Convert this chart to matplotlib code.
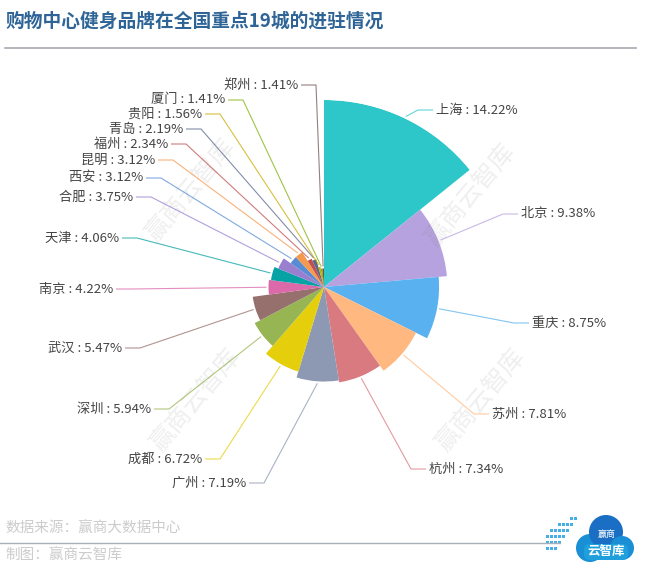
import numpy as np
import matplotlib
matplotlib.use("Agg")
import matplotlib.pyplot as plt
from matplotlib.patches import Circle, FancyBboxPatch

plt.rcParams['font.family'] = ['Noto Sans CJK SC', 'DejaVu Sans']

# data
cities = ["上海", "北京", "重庆", "苏州", "杭州", "广州", "成都", "深圳", "武汉", "南京",
          "天津", "合肥", "西安", "昆明", "福州", "青岛", "贵阳", "厦门", "郑州"]
shares = [14.22, 9.38, 8.75, 7.81, 7.34, 7.19, 6.72, 5.94, 5.47, 4.22,
          4.06, 3.75, 3.12, 3.12, 2.34, 2.19, 1.56, 1.41, 1.41]
colors = ["#2ec7c9", "#b6a2de", "#5ab1ef", "#ffb980", "#d87a80", "#8d98b3", "#e5cf0d",
          "#97b552", "#95706d", "#dc69aa", "#07a2a4", "#9a7fd1", "#588dd5", "#f5994e",
          "#c05050", "#59678c", "#c9ab00", "#7eb00a", "#6f5553"]

# label placement in image pixels: (side, x of text edge, y)
label_pos = [("r", 436, 110), ("r", 521, 214), ("r", 532, 323), ("r", 492, 414),
             ("r", 429, 469), ("l", 246, 483), ("l", 202, 459), ("l", 151, 409),
             ("l", 122, 348), ("l", 113, 289), ("l", 119, 238), ("l", 133, 197),
             ("l", 143, 178), ("l", 155, 160), ("l", 168, 144), ("l", 183, 129),
             ("l", 202, 114), ("l", 225, 100), ("l", 298, 85)]

W, H = 669, 578
CX, CY, R = 324, 287, 187

fig = plt.figure(figsize=(W / 100, H / 100), dpi=100)
fig.patch.set_facecolor("white")

# rose chart: angle and radius both follow the share
vals = np.array(shares)
widths = vals / vals.sum() * 2 * np.pi
starts = np.concatenate([[0], np.cumsum(widths)[:-1]])
mids = starts + widths / 2

pax = fig.add_axes([(CX - R) / W, (H - CY - R) / H, 2 * R / W, 2 * R / H], projection="polar")
pax.set_theta_zero_location("N")
pax.set_theta_direction(-1)
pax.bar(mids, vals, width=widths, bottom=0, color=colors, align="center", linewidth=0)
pax.set_ylim(0, vals.max())
pax.set_axis_off()

# overlay in pixel coordinates
ax = fig.add_axes([0, 0, 1, 1], zorder=5)
ax.set_xlim(0, W)
ax.set_ylim(H, 0)
ax.axis("off")
ax.patch.set_visible(False)

# watermarks
for wx, wy in [(190, 190), (470, 195), (195, 400), (480, 400)]:
    ax.text(wx, wy, "赢商云智库", rotation=50, fontsize=18, color="#777777", alpha=0.12,
            ha="center", va="center", zorder=0)

for i, (city, v) in enumerate(zip(cities, shares)):
    side, tx, ty = label_pos[i]
    rp = R * v / vals.max() + 2
    sx = CX + rp * np.sin(mids[i])
    sy = CY - rp * np.cos(mids[i])
    if side == "r":
        kx, ex = tx - 18, tx - 3
        ha = "left"
    else:
        kx, ex = tx + 18, tx + 3
        ha = "right"
    ax.plot([sx, kx, ex], [sy, ty, ty], color=colors[i], lw=0.8, alpha=0.75,
            solid_capstyle="butt")
    ax.text(tx, ty, f"{city} : {v:.2f}%", ha=ha, va="center", fontsize=9.5, color="#444444")

# title
ax.text(5, 21, "购物中心健身品牌在全国重点19城的进驻情况", fontsize=13.5, fontweight="bold",
        color="#2e6496", ha="left", va="center")
ax.plot([5, 636], [48, 48], color="#a4a8ae", lw=1.2)

# footer
ax.text(5, 529, "数据来源：赢商大数据中心", fontsize=10.5, color="#cccccc", ha="left", va="center")
ax.plot([0, 560], [543, 543], color="#a6b0b8", lw=1.0)
ax.text(5, 556, "制图：赢商云智库", fontsize=10.5, color="#cccccc", ha="left", va="center")

# logo: a small blue cloud
for (lx, ly, lr, lc) in [(590, 548, 14, "#1b8fd6"), (606, 532, 17, "#1a6fc4"),
                         (622, 548, 12, "#1b8fd6")]:
    ax.add_patch(Circle((lx, ly), lr, facecolor=lc, edgecolor="none"))
ax.add_patch(FancyBboxPatch((584, 544), 44, 16, boxstyle="round,pad=0,rounding_size=6",
                            facecolor="#1fa0dc", edgecolor="none"))
for row, n in enumerate([2, 4, 5, 5, 4, 3]):
    for k in range(n):
        ax.add_patch(plt.Rectangle((586 - 4 * row + k * 4 - 28 + 4 * (5 - n), 517 + row * 6),
                                   2.5, 2.5, facecolor="#48aee6", edgecolor="none"))
ax.text(607, 534, "赢商", fontsize=6.5, color="white", ha="center", va="center", style="italic")
ax.text(606, 551, "云智库", fontsize=9, color="white", ha="center", va="center",
        style="italic", fontweight="bold")

fig.savefig("out.png", dpi=100, facecolor="white")
